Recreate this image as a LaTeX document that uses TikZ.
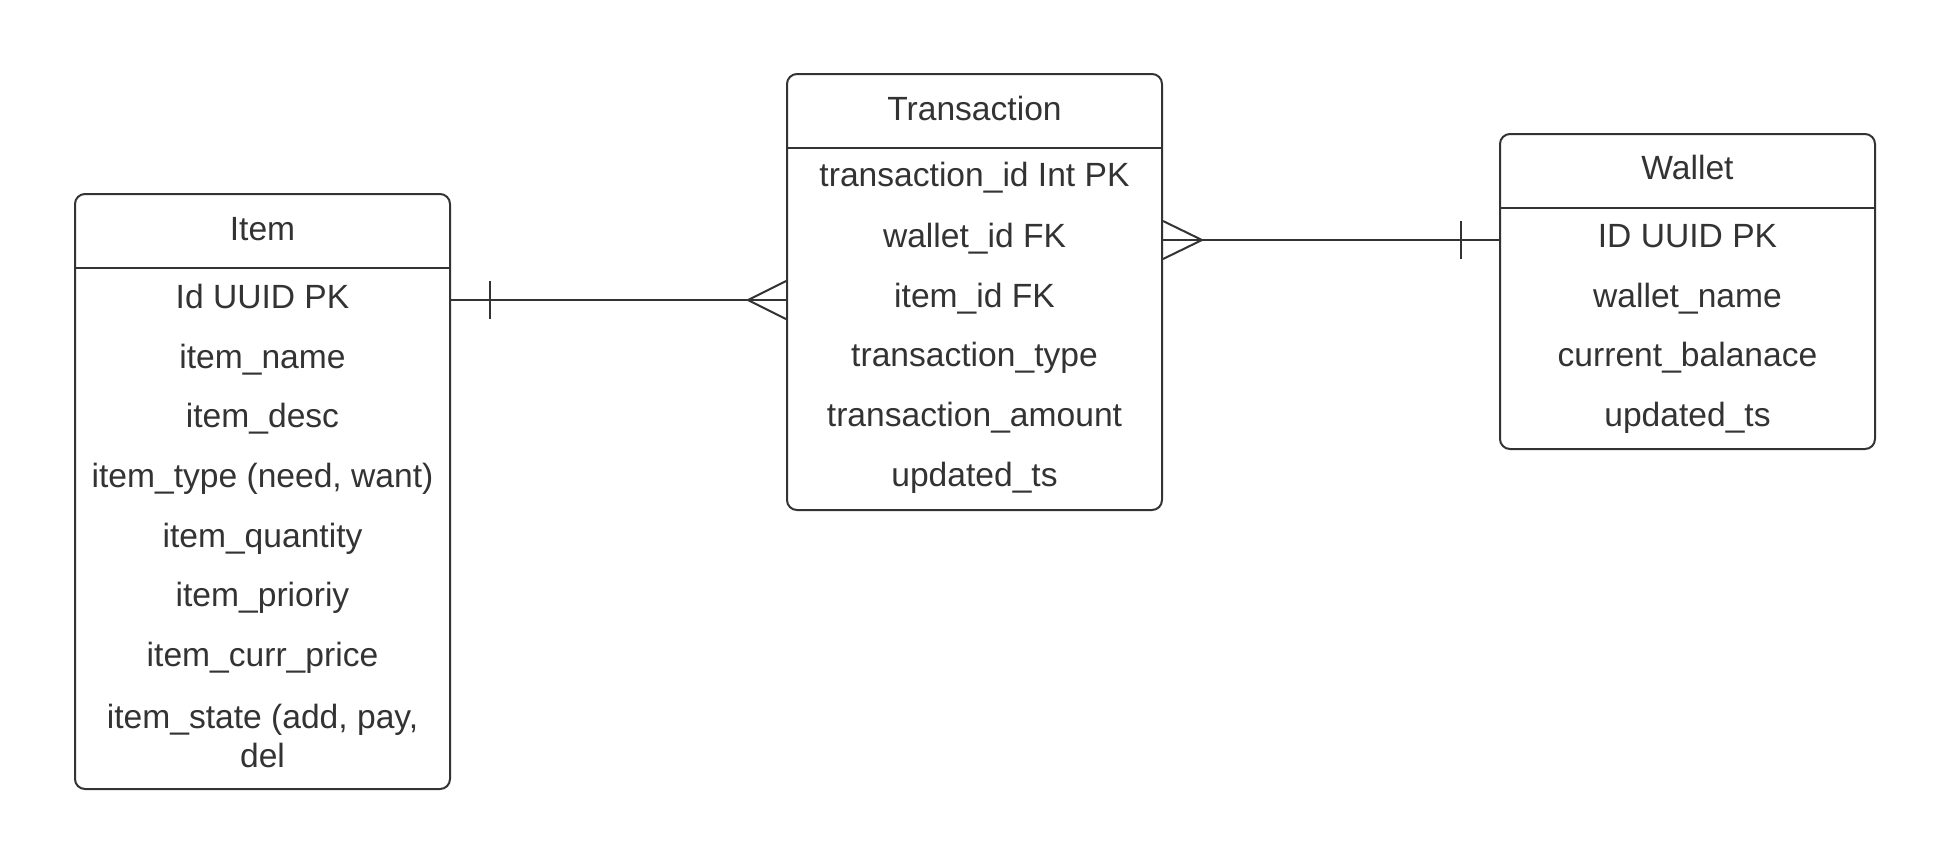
\documentclass[tikz,border=0pt]{standalone}
\usepackage{fontspec}
\setmainfont{Liberation Sans}
\usetikzlibrary{calc}
\definecolor{ink}{HTML}{333333}
\begin{document}
\begin{tikzpicture}[x=0.5pt,y=-0.5pt,
 entity/.style={draw=ink, line width=1pt, rounded corners=5pt, inner sep=0pt, minimum width=187.5pt},
 txt/.style={text=ink, font=\fontsize{16.8}{19.5}\selectfont, inner sep=0pt, align=center},
 field/.style={txt, text height=12pt, text depth=3.5pt},
 link/.style={draw=ink, line width=1pt},
 sep/.style={draw=ink, line width=0.7pt}]
\useasboundingbox (0,0) rectangle (1950,864);
% entities
\node[entity, minimum height=297.5pt] (item) at (262.5,491.5) {};
\node[entity, minimum height=218pt] (trans) at (974.5,292) {};
\node[entity, minimum height=157.5pt] (wallet) at (1687.5,291.5) {};
\draw[sep] ([yshift=-37.5pt]item.north west) -- ([yshift=-37.5pt]item.north east);
\draw[sep] ([yshift=-37.5pt]trans.north west) -- ([yshift=-37.5pt]trans.north east);
\draw[sep] ([yshift=-37.5pt]wallet.north west) -- ([yshift=-37.5pt]wallet.north east);
% Item texts
\node[field] (it0) at (262.5,231.5) {Item};
\node[field] (it1) at (262.5,299.5) {Id UUID PK};
\node[field] (it2) at (262.5,359.5) {item\_name};
\node[field] (it3) at (262.5,418.5) {item\_desc};
\node[field] (it4) at (262.5,478.5) {item\_type (need, want)};
\node[field] (it5) at (262.5,538.5) {item\_quantity};
\node[field] (it6) at (262.5,597.5) {item\_prioriy};
\node[field] (it7) at (262.5,657.5) {item\_curr\_price};
\node[txt, anchor=north] (it8) at (262.5,704) {item\_state (add, pay,\\del};
% Transaction texts
\node[field] (tr0) at (974.5,111.5) {Transaction};
\node[field] (tr1) at (974.5,177.5) {transaction\_id Int PK};
\node[field] (tr2) at (974.5,238.5) {wallet\_id FK};
\node[field] (tr3) at (974.5,298.5) {item\_id FK};
\node[field] (tr4) at (974.5,357.5) {transaction\_type};
\node[field] (tr5) at (974.5,417.5) {transaction\_amount};
\node[field] (tr6) at (974.5,477.5) {updated\_ts};
% Wallet texts
\node[field] (wa0) at (1687.5,170.5) {Wallet};
\node[field] (wa1) at (1687.5,238.5) {ID UUID PK};
\node[field] (wa2) at (1687.5,298.5) {wallet\_name};
\node[field] (wa3) at (1687.5,357.5) {current\_balanace};
\node[field] (wa4) at (1687.5,417.5) {updated\_ts};
% connector rows
\coordinate (r1) at (0,300);
\coordinate (r2) at (0,240);
% Item -- Transaction
\draw[link] (item.east |- r1) -- (trans.west |- r1);
\draw[link] ($(item.east |- r1)+(39,-19)$) -- ($(item.east |- r1)+(39,19)$);
\draw[link] ($(trans.west |- r1)+(0,-19)$) -- ($(trans.west |- r1)+(-38,0)$) -- ($(trans.west |- r1)+(0,19)$);
% Transaction -- Wallet
\draw[link] (trans.east |- r2) -- (wallet.west |- r2);
\draw[link] ($(trans.east |- r2)+(0,-19)$) -- ($(trans.east |- r2)+(39,0)$) -- ($(trans.east |- r2)+(0,19)$);
\draw[link] ($(wallet.west |- r2)+(-38,-19)$) -- ($(wallet.west |- r2)+(-38,19)$);
\end{tikzpicture}
\end{document}
